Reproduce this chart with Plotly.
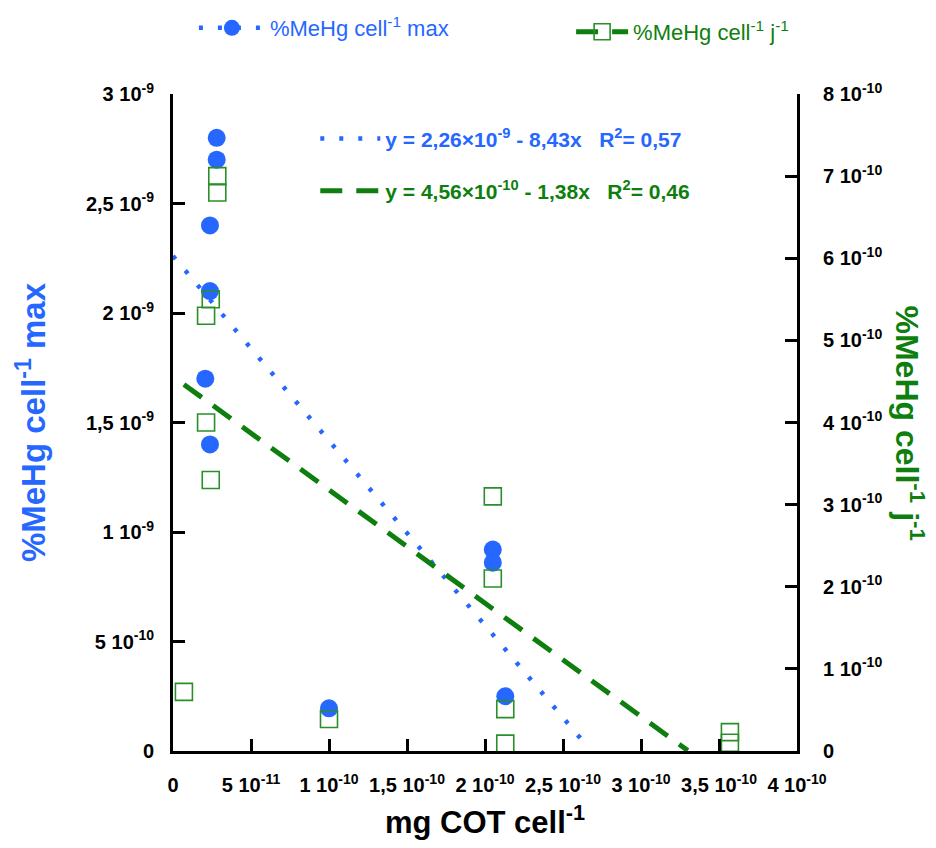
import plotly.graph_objects as go

# ---- data ----
x_cot_max = [2.80e-11, 2.80e-11, 2.37e-11, 2.37e-11, 2.07e-11, 2.37e-11,
             2.05e-10, 2.05e-10, 1.00e-10, 2.13e-10]
y_mehg_max = [2.80e-9, 2.70e-9, 2.40e-9, 2.10e-9, 1.70e-9, 1.40e-9,
              0.92e-9, 0.86e-9, 0.195e-9, 0.25e-9]

x_cot_day = [2.84e-11, 2.84e-11, 2.42e-11, 2.12e-11, 2.12e-11, 2.42e-11,
             7.0e-12, 1.00e-10, 2.05e-10, 2.05e-10, 2.13e-10, 2.13e-10,
             3.57e-10, 3.57e-10]
y_mehg_day = [7.0e-10, 6.8e-10, 5.5e-10, 5.3e-10, 4.0e-10, 3.3e-10,
              0.72e-10, 0.39e-10, 3.1e-10, 2.1e-10, 0.51e-10, 0.09e-10,
              0.23e-10, 0.10e-10]

# regression fits: intercept, slope, x range
fit_max = [2.26e-9, -8.43]
fit_max_x = [0.0, 2.65e-10]
fit_day = [4.56e-10, -1.38]
fit_day_x = [7.0e-12, 3.30e-10]

x_tickvals = [0, 5e-11, 1e-10, 1.5e-10, 2e-10, 2.5e-10, 3e-10, 3.5e-10, 4e-10]
x_ticktext = ["0", "5 10<sup>-11</sup>", "1 10<sup>-10</sup>", "1,5 10<sup>-10</sup>",
              "2 10<sup>-10</sup>", "2,5 10<sup>-10</sup>", "3 10<sup>-10</sup>",
              "3,5 10<sup>-10</sup>", "4 10<sup>-10</sup>"]
y1_tickvals = [0, 5e-10, 1e-9, 1.5e-9, 2e-9, 2.5e-9, 3e-9]
y1_ticktext = ["0", "5 10<sup>-10</sup>", "1 10<sup>-9</sup>", "1,5 10<sup>-9</sup>",
               "2 10<sup>-9</sup>", "2,5 10<sup>-9</sup>", "3 10<sup>-9</sup>"]
y2_tickvals = [0, 1e-10, 2e-10, 3e-10, 4e-10, 5e-10, 6e-10, 7e-10, 8e-10]
y2_ticktext = ["0"] + [f"{i} 10<sup>-10</sup>" for i in range(1, 9)]

BLUE = "#2567FF"
GREEN = "#0E7F0E"
SQ_GREEN = "#2A8F2A"
FONT = "Liberation Sans, Arial, sans-serif"
DOT = "4px,15px"
DASH = "22px,14px"

# page has an 8px body margin: figure is 920x832 so it fills the 936x848 window
W, H = 920, 832
ML, MT = 165, 86
PW, PH = 624, 657

fig = go.Figure()

# data traces
fig.add_trace(go.Scatter(
    x=x_cot_max, y=y_mehg_max, mode="markers", showlegend=False,
    marker=dict(symbol="circle", size=18, color=BLUE, line=dict(width=0)),
    cliponaxis=False, yaxis="y"))
fig.add_trace(go.Scatter(
    x=x_cot_day, y=y_mehg_day, mode="markers", showlegend=False,
    marker=dict(symbol="square-open", size=17, color=SQ_GREEN, line=dict(width=1.6, color=SQ_GREEN)),
    cliponaxis=False, yaxis="y2"))

# regression lines
fx1 = fit_max_x
fy1 = [fit_max[0] + fit_max[1] * v for v in fx1]
fx2 = fit_day_x
fy2 = [fit_day[0] + fit_day[1] * v for v in fx2]
fig.add_trace(go.Scatter(
    x=fx1, y=fy1, mode="lines", yaxis="y", legend="legend2", legendgroup="a",
    name=f"<span style='color:{BLUE}'>y = 2,26×10<sup>-9</sup> - 8,43x &nbsp; R<sup>2</sup>= 0,57</span>",
    line=dict(color=BLUE, width=4.5, dash=DOT)))
fig.add_trace(go.Scatter(
    x=fx2, y=fy2, mode="lines", yaxis="y2", legend="legend2", legendgroup="b",
    name=f"<span style='color:{GREEN}'>y = 4,56×10<sup>-10</sup> - 1,38x &nbsp; R<sup>2</sup>= 0,46</span>",
    line=dict(color=GREEN, width=5, dash=DASH)))

# legend entries for the series (line style + marker)
fig.add_trace(go.Scatter(
    x=[None], y=[None], mode="lines+markers", legend="legend",
    name=f"<span style='color:{BLUE}'>%MeHg cell<sup>-1</sup> max</span>",
    line=dict(color=BLUE, width=4.5, dash=DOT),
    marker=dict(symbol="circle", size=18, color=BLUE)))
fig.add_trace(go.Scatter(
    x=[None], y=[None], mode="lines+markers", legend="legend3", yaxis="y2",
    name=f"<span style='color:{GREEN}'>%MeHg cell<sup>-1</sup> j<sup>-1</sup></span>",
    line=dict(color=GREEN, width=5, dash=DASH),
    marker=dict(symbol="square-open", size=17, color=SQ_GREEN, line=dict(width=1.6, color=SQ_GREEN))))

tickfont = dict(family=FONT, size=20, color="black", weight="bold")
axis_common = dict(showgrid=False, zeroline=False, showline=True, linewidth=3,
                   linecolor="black", ticks="inside", ticklen=12, tickwidth=3,
                   tickcolor="black", tickmode="array", tickfont=tickfont)

fig.update_layout(
    width=W, height=H,
    margin=dict(l=ML, r=W - ML - PW, t=MT, b=H - MT - PH, autoexpand=False),
    paper_bgcolor="white", plot_bgcolor="white",
    font=dict(family=FONT),
    xaxis=dict(range=[0, 4e-10], tickvals=x_tickvals, ticktext=x_ticktext,
               ticklabelstandoff=14,
               title=dict(text="mg COT cell<sup>-1</sup>", standoff=30,
                          font=dict(family=FONT, size=31, color="black", weight="bold")),
               **axis_common),
    yaxis=dict(range=[0, 3e-9], tickvals=y1_tickvals, ticktext=y1_ticktext,
               ticklabelstandoff=12,
               title=dict(text="%MeHg cell<sup>-1</sup> max", standoff=31,
                          font=dict(family=FONT, size=33, color=BLUE, weight="bold")),
               **axis_common),
    yaxis2=dict(range=[0, 8e-10], tickvals=y2_tickvals, ticktext=y2_ticktext,
                overlaying="y", side="right", ticklabelstandoff=19,
                **axis_common),
    legend=dict(orientation="h", x=0.0335, xanchor="left",
                y=1 + (MT - 20) / PH, yanchor="middle",
                font=dict(family=FONT, size=22), itemwidth=66,
                bgcolor="rgba(0,0,0,0)"),
    legend3=dict(orientation="h", x=0.638, xanchor="left",
                 y=1 + (MT - 24) / PH, yanchor="middle",
                 font=dict(family=FONT, size=22), itemwidth=52,
                 bgcolor="rgba(0,0,0,0)"),
    legend2=dict(orientation="v", x=0.228, xanchor="left", y=0.963, yanchor="top",
                 font=dict(family=FONT, size=21, weight="bold"), itemwidth=60,
                 tracegroupgap=22, bgcolor="rgba(0,0,0,0)"),
    annotations=[dict(
        text="%MeHg cell<sup>-1</sup> j<sup>-1</sup>", textangle=90,
        xref="paper", yref="paper", x=(902 - ML) / PW, y=0.5,
        xanchor="center", yanchor="middle", showarrow=False,
        font=dict(family=FONT, size=32, color=GREEN, weight="bold"))],
)

fig.write_html("out.html")
